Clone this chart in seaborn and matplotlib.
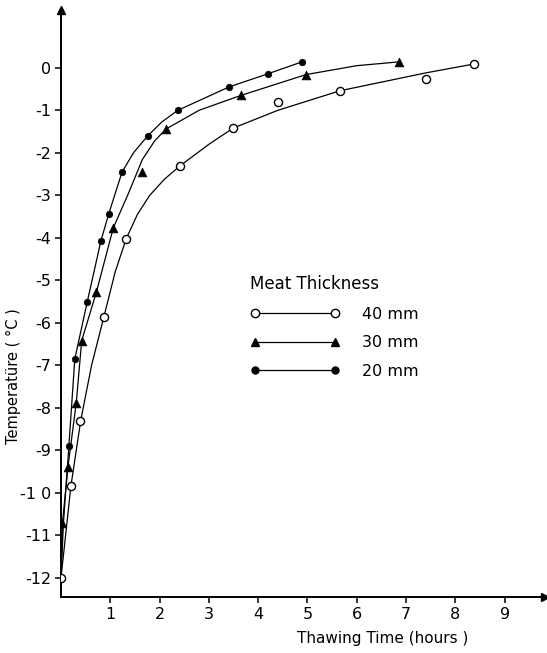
import matplotlib
matplotlib.use("Agg")
import matplotlib.pyplot as plt
import seaborn as sns
import pandas as pd
from matplotlib.lines import Line2D

# ---- data ----
series_names = ["40 mm", "30 mm", "20 mm"]

# measured points
t40 = [0.0, 0.20, 0.39, 0.87, 1.32, 2.41, 3.49, 4.40, 5.66, 7.40, 8.38]
T40 = [-12.0, -9.85, -8.30, -5.86, -4.03, -2.31, -1.42, -0.80, -0.54, -0.26, 0.09]
t30 = [0.03, 0.14, 0.31, 0.42, 0.72, 1.06, 1.65, 2.13, 3.65, 4.97, 6.86]
T30 = [-10.7, -9.40, -7.88, -6.42, -5.27, -3.77, -2.44, -1.44, -0.65, -0.16, 0.14]
t20 = [0.16, 0.28, 0.53, 0.81, 0.97, 1.24, 1.76, 2.37, 3.41, 4.20, 4.89]
T20 = [-8.90, -6.85, -5.52, -4.07, -3.43, -2.45, -1.60, -1.00, -0.45, -0.14, 0.14]

# hand-fitted curves as drawn in the picture
c40_t = [0.0, 0.20, 0.40, 0.62, 0.87, 1.10, 1.32, 1.55, 1.80, 2.10, 2.41, 3.00, 3.49, 4.40, 5.66, 7.40, 8.38]
c40_T = [-12.0, -9.85, -8.30, -7.00, -5.86, -4.80, -4.03, -3.45, -3.00, -2.62, -2.31, -1.80, -1.42, -1.00, -0.54, -0.12, 0.09]
c30_t = [0.0, 0.03, 0.14, 0.31, 0.42, 0.72, 1.06, 1.37, 1.65, 1.90, 2.13, 2.80, 3.65, 4.97, 6.00, 6.86]
c30_T = [-12.0, -10.7, -9.40, -7.88, -6.42, -5.27, -3.77, -2.95, -2.16, -1.72, -1.44, -1.00, -0.65, -0.16, 0.05, 0.14]
c20_t = [0.0, 0.05, 0.16, 0.28, 0.53, 0.81, 0.97, 1.24, 1.47, 1.76, 2.05, 2.37, 3.41, 4.20, 4.89]
c20_T = [-12.0, -10.7, -8.90, -6.85, -5.52, -4.07, -3.43, -2.45, -2.00, -1.60, -1.27, -1.00, -0.45, -0.14, 0.14]

x_ticks = [1, 2, 3, 4, 5, 6, 7, 8, 9]
y_ticks = [-12, -11, -10, -9, -8, -7, -6, -5, -4, -3, -2, -1, 0]
y_ticklabels = ["-12", "-11", "-1 0", "-9", "-8", "-7", "-6", "-5", "-4", "-3", "-2", "-1", "0"]

# ---- style ----
sns.set_style("ticks")
plt.rcParams["font.family"] = ["DejaVu Sans"]
plt.rcParams["text.color"] = "black"
plt.rcParams["axes.labelcolor"] = "black"
plt.rcParams["xtick.color"] = "black"
plt.rcParams["ytick.color"] = "black"

fig = plt.figure(figsize=(5.47, 6.53), dpi=100)
ax = fig.add_axes([61 / 547, 56 / 653, 484 / 547, 587 / 653])

curves = [(c40_t, c40_T), (c30_t, c30_T), (c20_t, c20_T)]
points = [(t40, T40), (t30, T30), (t20, T20)]
mstyles = [
    dict(marker="o", s=34, facecolor="white", edgecolor="black", linewidth=1.0),
    dict(marker="^", s=40, color="black", edgecolor="black", linewidth=0.5),
    dict(marker="o", s=22, color="black", edgecolor="black", linewidth=0.5),
]

for (ct, cT) in curves:
    sns.lineplot(x=ct, y=cT, ax=ax, color="black", linewidth=0.9, sort=False,
                 estimator=None, zorder=2)
for (pt, pT), st in zip(points, mstyles):
    sns.scatterplot(x=pt, y=pT, ax=ax, zorder=3, **st)

ax.set_xlim(0, 9.82)
ax.set_ylim(-12.45, 1.36)
ax.set_xticks(x_ticks)
ax.set_xticklabels([str(v) for v in x_ticks], fontsize=11.5)
ax.set_yticks(y_ticks)
ax.set_yticklabels(y_ticklabels, fontsize=11.5)
ax.tick_params(axis="both", direction="out", length=4, width=1.1, color="black",
               labelcolor="black", pad=3)

sns.despine(ax=ax)
for side in ["left", "bottom"]:
    ax.spines[side].set_linewidth(1.4)
    ax.spines[side].set_color("black")

# axis arrows
ax.plot(1, 0, marker=">", color="black", markersize=6, transform=ax.transAxes, clip_on=False)
ax.plot(0, 1, marker="^", color="black", markersize=6, transform=ax.transAxes, clip_on=False)

ax.set_xlabel("Thawing Time (hours )", fontsize=11, color="black")
ax.set_ylabel("Temperatüre ( °C )", fontsize=10.5, color="black")
ax.xaxis.set_label_coords(0.665, -0.058)
ax.yaxis.set_label_coords(-0.082, 0.376)

# legend
handles = [
    Line2D([], [], color="black", linewidth=0.9, marker="o", markersize=6,
           markerfacecolor="white", markeredgecolor="black"),
    Line2D([], [], color="black", linewidth=0.9, marker="^", markersize=5.5,
           markerfacecolor="black", markeredgecolor="black"),
    Line2D([], [], color="black", linewidth=0.9, marker="o", markersize=5,
           markerfacecolor="black", markeredgecolor="black"),
]
leg = ax.legend(handles, series_names, title="Meat Thickness", loc="upper left",
                bbox_to_anchor=(250 / 547, 1 - 275 / 653), bbox_transform=fig.transFigure,
                frameon=False, handlelength=5.6, numpoints=2, labelspacing=0.85,
                handletextpad=1.4, borderpad=0, borderaxespad=0, fontsize=11.5,
                title_fontsize=12, alignment="left", labelcolor="black")
leg.get_title().set_color("black")

fig.savefig("out.png", dpi=100)
